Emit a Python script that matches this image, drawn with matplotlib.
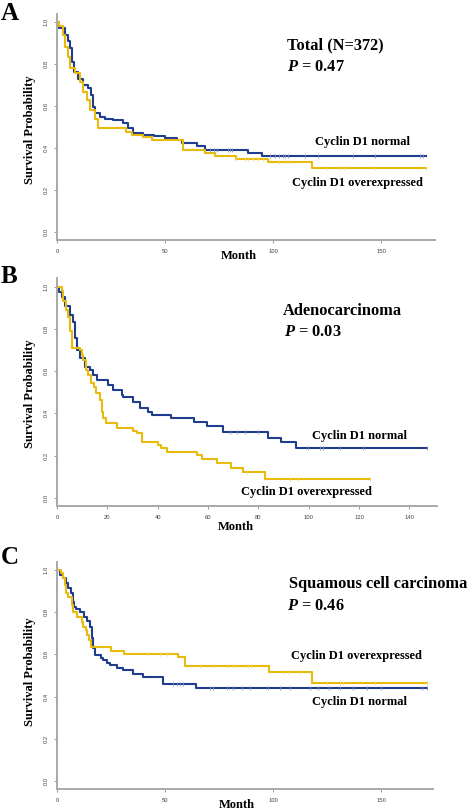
import numpy as np
import matplotlib
matplotlib.use('Agg')
from matplotlib import pyplot as plt

plt.rcParams['font.family'] = ['Liberation Serif', 'DejaVu Serif']
plt.rcParams['mathtext.fontset'] = 'custom'
plt.rcParams['mathtext.it'] = 'Liberation Serif:italic:bold'
plt.rcParams['mathtext.rm'] = 'Liberation Serif:bold'

# ---- panel A : total ----
a_norm_t = [0, 1, 3.7, 5, 6, 6.8, 7.9, 9.9, 12.2, 14.2, 15.6, 16.8, 17.6, 19.9, 22, 26,
            30.7, 33, 35.3, 40, 45, 50, 55.4, 57.7, 64.7, 68.5, 88.4, 94.8, 171]
a_norm_s = [1.0, 0.97, 0.94, 0.91, 0.875, 0.81, 0.76, 0.73, 0.70, 0.684, 0.652, 0.597, 0.565,
            0.549, 0.54, 0.533, 0.518, 0.494, 0.47, 0.462, 0.457, 0.448, 0.44, 0.425, 0.41,
            0.39, 0.375, 0.362, 0.362]
a_over_t = [0, 1, 2.9, 3.7, 5, 6, 8.3, 10.6, 12.2, 14, 15.3, 17.6, 19.1, 32, 34.6, 40, 43.8,
            58.5, 68.5, 73, 83, 97.8, 118, 171]
a_over_s = [1.0, 0.98, 0.94, 0.88, 0.835, 0.78, 0.755, 0.716, 0.668, 0.629, 0.58, 0.54, 0.497,
            0.478, 0.462, 0.454, 0.438, 0.39, 0.375, 0.362, 0.348, 0.332, 0.303, 0.303]
a_norm_cens = [71, 72.5, 74, 79, 80, 81, 98.6, 101, 103, 104.6, 105.6, 107, 114.8, 120.8,
               137, 147, 168, 169.4]
a_over_cens = [83, 87, 88.4, 90.7, 93, 95.4, 103, 105.6, 108, 125, 131, 133, 147, 171]

# ---- panel B : adenocarcinoma ----
b_norm_t = [0, 0.9, 1.9, 3.2, 5.2, 6.2, 7.2, 8.1, 9.1, 11.1, 13.1, 14.4, 15.8, 20.2, 22.4,
            25.7, 26.4, 30.3, 33, 36.3, 37.7, 45.2, 54.5, 59.8, 65.9, 84, 89, 95, 147]
b_norm_s = [1.0, 0.976, 0.953, 0.91, 0.866, 0.834, 0.755, 0.70, 0.66, 0.62, 0.605, 0.58, 0.558,
            0.534, 0.51, 0.487, 0.476, 0.455, 0.424, 0.408, 0.392, 0.376, 0.357, 0.341, 0.31,
            0.284, 0.262, 0.234, 0.234]
b_over_t = [0, 2, 2.5, 3.6, 4.5, 5.2, 5.8, 9.1, 9.8, 10.5, 11.5, 12.5, 13.4, 14.7, 15.5, 17.1,
            17.8, 18.4, 19.5, 24, 30.1, 31.7, 33.7, 40.3, 41.2, 43.6, 55.8, 57.5, 63.7, 69,
            73.8, 82.7, 124.2]
b_over_s = [1.0, 0.98, 0.93, 0.89, 0.855, 0.79, 0.708, 0.70, 0.676, 0.652, 0.605, 0.58, 0.542,
            0.526, 0.495, 0.463, 0.408, 0.376, 0.353, 0.332, 0.318, 0.305, 0.265, 0.25, 0.234,
            0.218, 0.202, 0.182, 0.163, 0.142, 0.12, 0.089, 0.089]
b_norm_cens = [68.8, 71.6, 74.7, 80, 99.8, 104.6, 105.8, 112.5, 121.7, 147]
b_over_cens = [75.5, 92.6, 95.8, 124.5]

# ---- panel C : squamous ----
c_norm_t = [0, 1.4, 2.9, 4.2, 5.2, 6.3, 7.3, 7.9, 8.8, 10.6, 12.5, 13.7, 15.3, 16.1, 16.8,
            17.6, 20.2, 21.4, 23, 24.5, 27.9, 30.7, 35.3, 40, 48.9, 49.2, 64.3, 171]
c_norm_s = [1.0, 0.976, 0.96, 0.937, 0.913, 0.889, 0.85, 0.826, 0.814, 0.802, 0.776, 0.76,
            0.731, 0.676, 0.629, 0.597, 0.581, 0.573, 0.561, 0.55, 0.534, 0.526, 0.507, 0.494,
            0.475, 0.46, 0.443, 0.443]
c_over_t = [0, 1.7, 2.6, 3.7, 4.2, 5.2, 6.8, 7.5, 9.1, 11.4, 12.2, 13.4, 14, 15, 15.6, 24.8,
            31, 56.2, 59.3, 98.1, 117.9, 171]
c_over_s = [1.0, 0.984, 0.96, 0.929, 0.889, 0.873, 0.834, 0.802, 0.776, 0.755, 0.728, 0.716,
            0.692, 0.668, 0.634, 0.618, 0.602, 0.586, 0.547, 0.517, 0.466, 0.466]
c_norm_cens = [53.7, 55.6, 57, 58.3, 70.8, 72.2, 78.7, 81.5, 85.6, 89.4, 97.7, 103, 107.9,
               117, 121, 126, 131, 137, 143.5, 150, 169, 171]
c_over_cens = [41.7, 47.7, 51, 52.3, 66.2, 72.2, 78.7, 81.5, 83, 87, 88.4, 90, 104.6, 107,
               112.5, 125, 131, 132.4, 147, 171]

blue = '#203C8E'
yellow = '#E9BA0A'
W, H = 472, 810

fig = plt.figure(figsize=(W / 100, H / 100), dpi=100)


def fx(x):
    return x / W


def fy(y):
    return 1 - y / H


def surv_at(t, s, c):
    idx = np.searchsorted(t, c, side='right') - 1
    return np.array(s)[idx]


def panel(left, right, y0px, pxunit, xmax, xticks,
          nt, ns, ncen, ot, os_, ocen):
    # y0px = pixel row of S=0, pxunit = pixels per unit survival
    bot = y0px + 0.04 * pxunit
    top = y0px - 1.04 * pxunit
    ax = fig.add_axes([fx(left), fy(bot), fx(right - left), (bot - top) / H])
    ax.step(nt, ns, where='post', color=blue, lw=1.5)
    ax.step(ot, os_, where='post', color=yellow, lw=1.5)
    ax.plot(ncen, surv_at(nt, ns, ncen), '|', color='#8090C0', ms=3.5, mew=0.6)
    ax.plot(ocen, surv_at(ot, os_, ocen), '|', color='#F0D870', ms=3.5, mew=0.6)
    ax.set_xlim(0, xmax)
    ax.set_ylim(-0.04, 1.04)
    for sp in ['top', 'right']:
        ax.spines[sp].set_visible(False)
    for sp in ['left', 'bottom']:
        ax.spines[sp].set_color('#A8A8A8')
        ax.spines[sp].set_linewidth(1.4)
    ax.set_xticks(xticks)
    ax.set_xticklabels([str(v) for v in xticks])
    yt = [0.0, 0.2, 0.4, 0.6, 0.8, 1.0]
    ax.set_yticks(yt)
    ax.set_yticklabels(['%.1f' % v for v in yt], rotation=90, va='center')
    ax.tick_params(length=2.2, width=0.6, color='#888888', pad=4,
                   labelsize=4.2, labelcolor='#444444')
    for lab in ax.get_xticklabels() + ax.get_yticklabels():
        lab.set_family(['Liberation Sans', 'DejaVu Sans'])
    return ax


panel(57, 435, 232, 210, 175, [0, 50, 100, 150],
      a_norm_t, a_norm_s, a_norm_cens, a_over_t, a_over_s, a_over_cens)
panel(57, 437, 497.7, 211, 151, [0, 20, 40, 60, 80, 100, 120, 140],
      b_norm_t, b_norm_s, b_norm_cens, b_over_t, b_over_s, b_over_cens)
panel(57, 433, 781, 211, 174, [0, 50, 100, 150],
      c_norm_t, c_norm_s, c_norm_cens, c_over_t, c_over_s, c_over_cens)


def txt(x, y, s, size, **kw):
    fig.text(fx(x), fy(y), s, fontsize=size, fontweight='bold', va='center', **kw)


# panel letters
txt(1, 14, 'A', 18)
txt(1, 277, 'B', 18)
txt(1, 557, 'C', 18)

# axis labels
for cy, mx, my in [(130, 239, 256), (394, 236, 527), (672, 237, 805)]:
    txt(30, cy, 'Survival Probability', 9, rotation=90, ha='center')
    txt(mx, my, 'Month', 9, ha='center')

# annotations
txt(287, 45, 'Total (N=372)', 11.8)
txt(287, 67, r'$P$ = 0.47', 11.8)
txt(315, 142, 'Cyclin D1 normal', 9)
txt(292, 183, 'Cyclin D1 overexpressed', 9)

txt(283, 311, 'Adenocarcinoma', 11.8)
txt(284, 332, r'$P$ = 0.03', 11.8)
txt(312, 436, 'Cyclin D1 normal', 9)
txt(241, 492, 'Cyclin D1 overexpressed', 9)

txt(289, 584, 'Squamous cell carcinoma', 11.8)
txt(287, 606, r'$P$ = 0.46', 11.8)
txt(291, 656, 'Cyclin D1 overexpressed', 9)
txt(312, 702, 'Cyclin D1 normal', 9)

fig.savefig('out.png', dpi=100)
